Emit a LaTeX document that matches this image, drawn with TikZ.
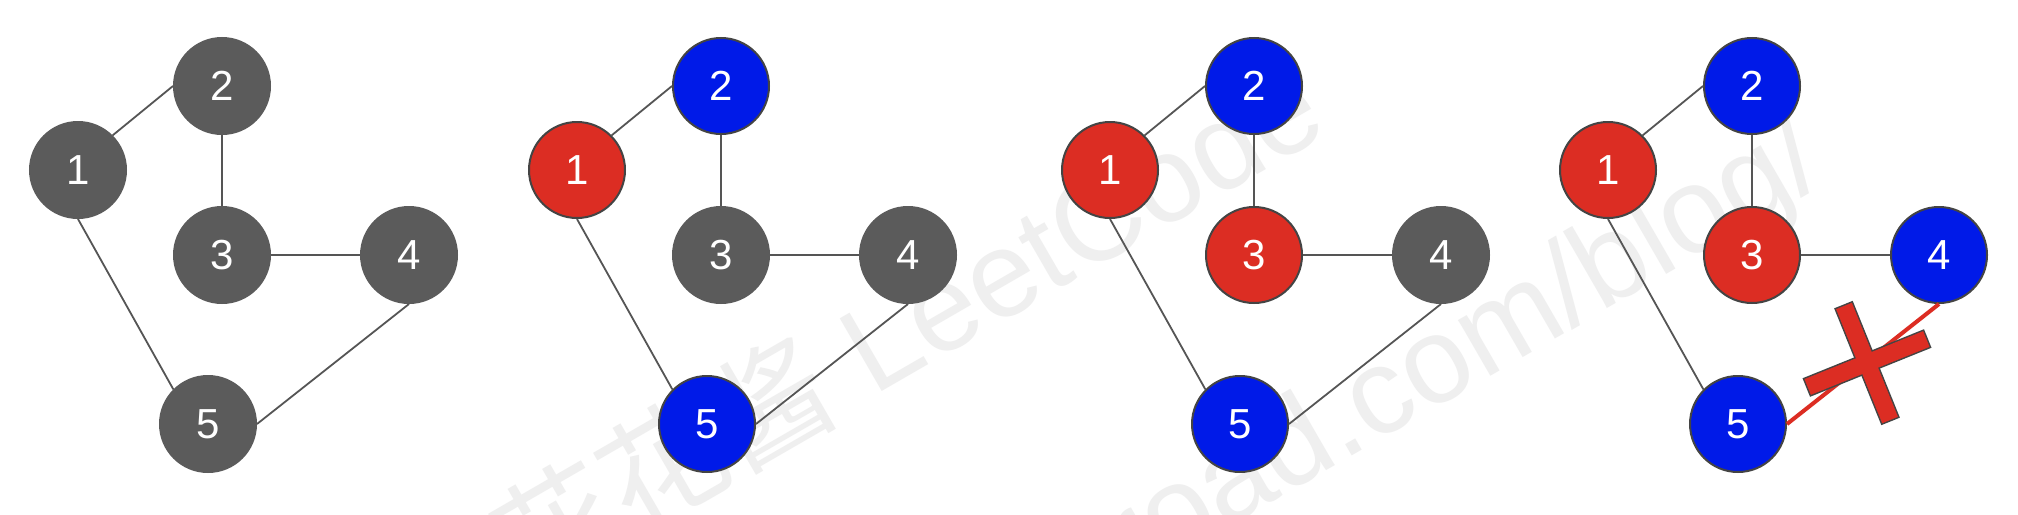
\documentclass[tikz,border=0pt]{standalone}
\usepackage{fontspec}
\setmainfont{Liberation Sans}
\newfontfamily\cjkfont{Noto Sans CJK SC}
\definecolor{ngray}{RGB}{91,91,91}
\definecolor{nred}{RGB}{220,45,35}
\definecolor{nblue}{RGB}{0,26,232}
\definecolor{linkc}{RGB}{85,85,85}
\definecolor{bord}{RGB}{68,68,68}
\definecolor{wmark}{RGB}{239,239,239}
\tikzset{
  vtx/.style={circle, minimum size=96pt, inner sep=0pt, line width=2pt, text=white,
              font=\fontsize{42}{42}\selectfont},
  gv/.style={vtx, fill=ngray, draw=ngray},
  rv/.style={vtx, fill=nred, draw=bord},
  bv/.style={vtx, fill=nblue, draw=bord},
  link/.style={draw=linkc, line width=1.8pt},
  cutlink/.style={draw=nred, line width=4pt},
  wm/.style={text=wmark, font=\fontsize{122}{122}\selectfont, inner sep=0pt, rotate=30},
  crossbar/.style={rectangle, inner sep=0pt, rotate=22},
}
% #1 prefix, #2 x offset, #3-#7 node styles, #8 style of edge 4-5
\newcommand\drawgraph[8]{%
  \node[#3] (#1a) at (#2,170) {1};
  \node[#4] (#1b) at (#2+144,86) {2};
  \node[#5] (#1c) at (#2+144,255) {3};
  \node[#6] (#1d) at (#2+331,255) {4};
  \node[#7] (#1e) at (#2+130,424) {5};
  \draw[link] (#1a.north east) -- (#1b.west);
  \draw[link] (#1b.south) -- (#1c.north);
  \draw[link] (#1c.east) -- (#1d.west);
  \draw[link] (#1a.south) -- (#1e.north west);
  \draw[#8] (#1d.south) -- (#1e.east);
}
\begin{document}
\begin{tikzpicture}[x=1pt,y=-1pt]
\useasboundingbox (0,0) rectangle (2018,514);
\fill[white] (0,0) rectangle (2018,514);
\begin{scope}
  \clip (0,0) rectangle (2018,514);
  \node[wm, anchor=base east] (wm1) at (1332,132) {{\cjkfont 花花酱} LeetCode};
  \node[wm, anchor=base east] (wm2) at (1830,180) {zxi.mytechroad.com/blog/};
\end{scope}
\drawgraph{g1}{78}{gv}{gv}{gv}{gv}{gv}{link}
\drawgraph{g2}{577}{rv}{bv}{gv}{gv}{bv}{link}
\drawgraph{g3}{1110}{rv}{bv}{rv}{gv}{bv}{link}
\drawgraph{g4}{1608}{rv}{bv}{rv}{bv}{bv}{cutlink}
% cross mark over the conflicting edge
\node[crossbar, minimum width=128pt, minimum height=17pt, draw=bord, line width=3pt] (xh) at (1867,363) {};
\node[crossbar, minimum width=17pt, minimum height=123pt, draw=bord, line width=3pt] (xv) at (1867,363) {};
\node[crossbar, minimum width=128pt, minimum height=17pt, fill=nred] (xhf) at (1867,363) {};
\node[crossbar, minimum width=17pt, minimum height=123pt, fill=nred] (xvf) at (1867,363) {};
\end{tikzpicture}
\end{document}
